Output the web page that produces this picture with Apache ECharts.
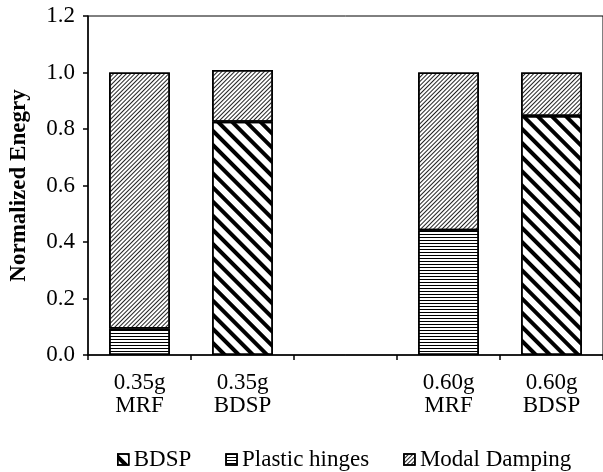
<!DOCTYPE html>
<html>
<head>
<meta charset="utf-8">
<script src="https://cdn.jsdelivr.net/npm/echarts@6/dist/echarts.min.js"></script>
<style>
  html, body { margin: 0; padding: 0; background: #fff; }
  #chart { width: 603px; height: 472px; }
</style>
</head>
<body>
<div id="chart"></div>
<script>
// categories on the x axis (the empty one is the gap between the two groups)
var categories = ['0.35g\nMRF', '0.35g\nBDSP', '', '0.60g\nMRF', '0.60g\nBDSP'];
// normalized energy shares, stacked bottom to top
var bdsp = [0, 0.826, null, 0, 0.846];
var plasticHinges = [0.094, 0, null, 0.442, 0];
var modalDamping = [0.906, 0.183, null, 0.558, 0.154];
var seriesNames = ['BDSP', 'Plastic hinges', 'Modal Damping'];

var FONT = 'Liberation Serif';

// zero shares are not drawn
function clean(arr) {
    return arr.map(function (v) { return v ? v : '-'; });
}

function barSeries(name, data, decal) {
    return {
        name: name,
        type: 'bar',
        stack: 'energy',
        barCategoryGap: '41%',
        data: clean(data),
        itemStyle: {
            color: '#fff',
            borderColor: '#000',
            borderWidth: 1.5,
            decal: decal
        },
        emphasis: { disabled: true }
    };
}

var chart = echarts.init(document.getElementById('chart'));

var option = {
    animation: false,
    textStyle: { fontFamily: FONT, color: '#000' },
    grid: {
        left: 88,
        right: -3,
        top: 16,
        bottom: 117,
        show: true,
        borderColor: '#000',
        borderWidth: 1
    },
    legend: {
        data: seriesNames,
        icon: 'rect',
        left: 112,
        top: 443,
        itemWidth: 11,
        itemHeight: 11,
        itemGap: 34,
        itemTextGap: 4,
        itemStyle: { borderColor: '#000', borderWidth: 1.5 },
        textStyle: { fontFamily: FONT, fontSize: 23, color: '#000' }
    },
    xAxis: {
        type: 'category',
        data: categories,
        axisLine: { lineStyle: { color: '#000', width: 1.5 } },
        axisTick: { show: true, length: 5, lineStyle: { color: '#000', width: 1.5 } },
        axisLabel: {
            fontFamily: FONT,
            fontSize: 23,
            lineHeight: 23,
            color: '#000',
            margin: 16,
            interval: 0
        }
    },
    yAxis: {
        type: 'value',
        min: 0,
        max: 1.2,
        interval: 0.2,
        name: 'Normalized Enegry',
        nameLocation: 'middle',
        nameGap: 57,
        nameTextStyle: { fontFamily: FONT, fontSize: 23, fontWeight: 'bold', color: '#000' },
        axisLine: { show: true, lineStyle: { color: '#000', width: 1.5 } },
        axisTick: { show: true, length: 5, lineStyle: { color: '#000', width: 1.5 } },
        splitLine: { show: false },
        axisLabel: {
            fontFamily: FONT,
            fontSize: 23,
            color: '#000',
            margin: 13,
            formatter: function (v) { return v.toFixed(1); }
        }
    },
    series: [
        barSeries(seriesNames[0], bdsp, {
            symbol: 'rect', symbolSize: 1,
            dashArrayX: [1, 0], dashArrayY: [4, 6],
            rotation: Math.PI / 4, color: '#000'
        }),
        barSeries(seriesNames[1], plasticHinges, {
            symbol: 'rect', symbolSize: 1,
            dashArrayX: [1, 0], dashArrayY: [1, 2],
            rotation: 0, color: '#000'
        }),
        barSeries(seriesNames[2], modalDamping, {
            symbol: 'rect', symbolSize: 1,
            dashArrayX: [1, 0], dashArrayY: [1, 2],
            rotation: -Math.PI / 4, color: '#222'
        })
    ]
};

chart.setOption(option);
</script>
</body>
</html>
